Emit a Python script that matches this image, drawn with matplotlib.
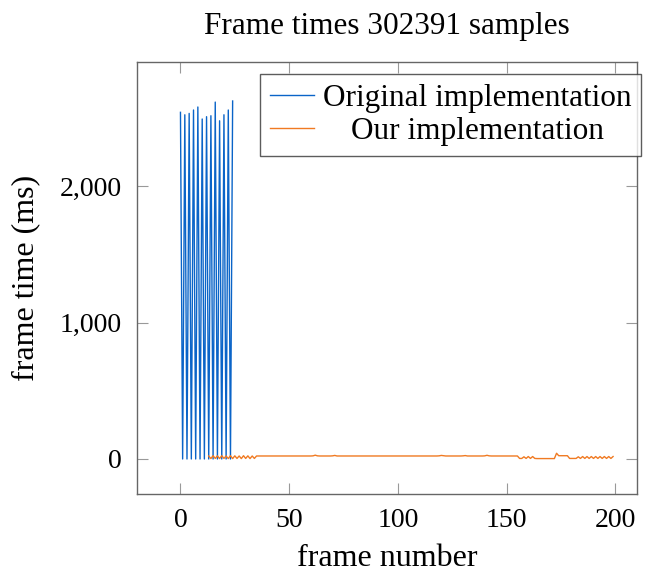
import numpy as np
import matplotlib
matplotlib.use("Agg")
import matplotlib.pyplot as plt

plt.rcParams['font.family'] = ['Liberation Serif', 'DejaVu Serif']

# Original implementation: spikes at even frames, near zero in between
orig_frames = list(range(0, 25))
orig_peaks = [2540, 2522, 2532, 2557, 2579, 2491, 2508, 2515, 2615, 2478, 2522, 2557, 2623]
orig_ms = []
for i, p in enumerate(orig_peaks):
    orig_ms.append(p)
    if i < len(orig_peaks) - 1:
        orig_ms.append(0)

# Our implementation, frames 13..199
our_frames = list(range(13, 200))
our_ms = [
    22, 3, 24, 4, 23, 3, 24, 4, 22, 3,            # 13-22
    24, 3, 23, 4, 22, 3, 24, 4, 23, 3,            # 23-32
    22, 4, 22,                                    # 33-35
    22, 22, 22, 22, 22, 22, 22, 22, 22, 22,       # 36-45
    22, 22, 22, 22, 22, 22, 22, 22, 22, 22,       # 46-55
    22, 22, 22, 22, 22, 23, 28, 23, 22, 22,       # 56-65
    22, 22, 22, 22, 23, 26, 22, 22, 22, 22,       # 66-75
    22, 22, 22, 22, 22, 22, 22, 22, 22, 22,       # 76-85
    22, 22, 22, 22, 22, 22, 22, 22, 22, 22,       # 86-95
    22, 22, 22, 22, 22, 22, 22, 22, 22, 22,       # 96-105
    22, 22, 22, 22, 22, 22, 22, 22, 22, 22,       # 106-115
    22, 22, 22, 23, 26, 24, 22, 22, 22, 22,       # 116-125
    22, 22, 22, 22, 23, 25, 22, 22, 22, 22,       # 126-135
    22, 22, 22, 22, 23, 27, 23, 22, 22, 22,       # 136-145
    22, 22, 22, 22, 22, 22, 22, 22, 22, 22,       # 146-155
    4, 4, 16, 4, 18, 4, 18, 4, 3, 3,              # 156-165
    3, 3, 3, 3, 3, 3, 3, 42, 24, 24,              # 166-175
    24, 24, 24, 4, 4, 4, 4, 16, 4, 18,            # 176-185
    4, 18, 4, 18, 4, 18, 4, 18, 4, 18,            # 186-195
    4, 18, 4, 18,                                 # 196-199
]

x_ticks = [0, 50, 100, 150, 200]
y_ticks = [0, 1000, 2000]
y_tick_labels = ['0', '1,000', '2,000']

fig = plt.figure(figsize=(6.48, 5.75), dpi=100)
ax = fig.add_axes([0.2114, 0.141, 0.7716, 0.751])

ax.plot(orig_frames, orig_ms, color='#0a64c8', linewidth=1.0, label='Original implementation')
ax.plot(our_frames, our_ms, color='#f07a22', linewidth=1.0, label='Our implementation')

ax.set_xlim(-20, 210)
ax.set_ylim(-256, 2908)
ax.set_xticks(x_ticks)
ax.set_yticks(y_ticks)
ax.set_yticklabels(y_tick_labels)
ax.tick_params(direction='in', length=8, width=0.8, color='#999999',
               top=True, right=True, labelsize=20)
ax.tick_params(axis='x', pad=10)
ax.tick_params(axis='y', pad=11)
for s in ax.spines.values():
    s.set_color('#666666')
    s.set_linewidth(1.0)

ax.set_title('Frame times 302391 samples', fontsize=22.5, pad=20)
ax.set_xlabel('frame number', fontsize=23, labelpad=8)
ax.set_ylabel('frame time (ms)', fontsize=23, labelpad=14)

leg = ax.legend(loc='upper right', bbox_to_anchor=(1.008, 0.972), fontsize=22.5,
                frameon=True, fancybox=False, edgecolor='#333333',
                handlelength=1.4, handletextpad=0.3, borderpad=0.3,
                labelspacing=0.15, borderaxespad=0)
leg.get_frame().set_linewidth(1.0)

# centre the legend labels like the original
fig.canvas.draw()
texts = leg.get_texts()
widths = [t.get_window_extent().width for t in texts]
for t, w in zip(texts, widths):
    t.set_x((max(widths) - w) / 2)

fig.savefig('out.png', dpi=100)
